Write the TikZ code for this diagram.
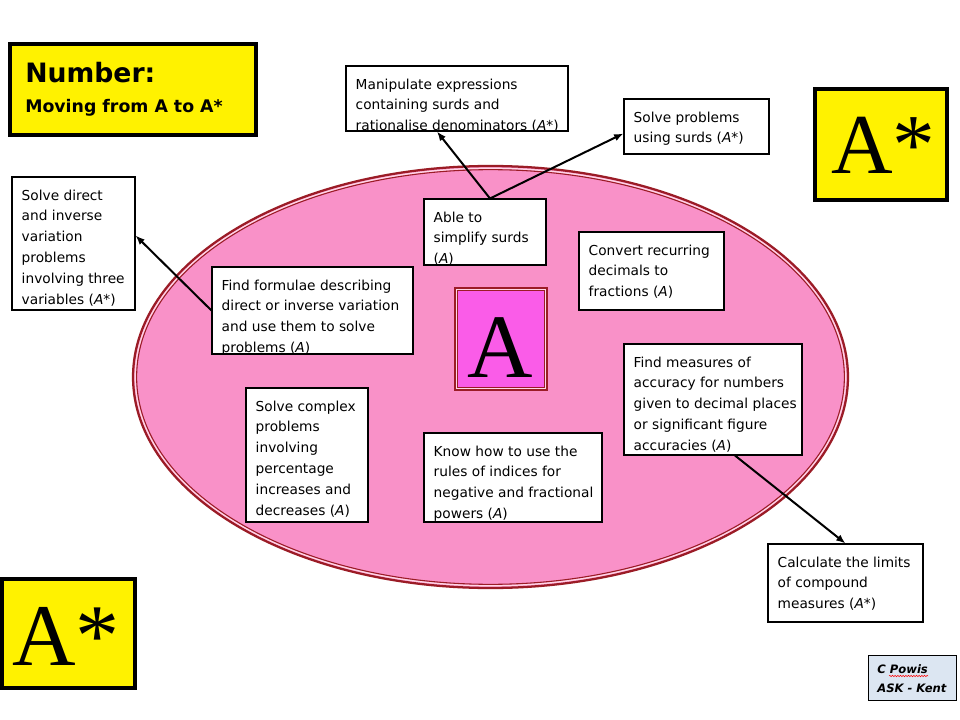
\documentclass[tikz,border=0pt]{standalone}
\usepackage{fontspec}
\setmainfont{DejaVu Sans}
\newfontfamily\serifA{Liberation Serif}
\usetikzlibrary{arrows.meta,fit,decorations.pathmorphing}
\definecolor{ellfill}{RGB}{249,145,200}
\definecolor{dred}{RGB}{155,28,38}
\definecolor{lpink}{RGB}{255,215,230}
\definecolor{magA}{RGB}{250,92,232}
\definecolor{lblue}{RGB}{220,230,242}
\newcommand\mybox[6]{%
  \node[box, fit={(#2,#3) (#4,#5)}] (#1) {};
  \begin{scope}
    \clip (#1.south west) rectangle (#1.north east);
    \node[lbl] (#1t) at ([shift={(10,13)}]#1.north west) {#6};
  \end{scope}}
\newcommand\Ait{\textit{A}}
\begin{document}
\begin{tikzpicture}[x=0.75pt,y=-0.75pt,
  box/.style={draw=black, line width=0.8pt, fill=white, inner sep=0pt},
  lbl/.style={anchor=north west, inner sep=0pt, align=left, font=\fontsize{10.3}{15.6}\selectfont},
  arr/.style={line width=1.5pt, -{Latex[length=7pt,width=5.5pt]}},
  ybox/.style={draw=black, line width=2.2pt, fill=yellow, inner sep=0pt},
  inner/.style={line width=0.7pt},
  big/.style={anchor=base west, inner sep=0pt, font=\serifA\fontsize{#1}{#1}\selectfont},
]
\useasboundingbox[fill=white] (0,0) rectangle (960,720);

% ellipse
\fill[ellfill] (490.5,377) ellipse [x radius=268.1pt, y radius=158.25pt];
\draw[dred, line width=1.7pt] (490.5,377) ellipse [x radius=268.1pt, y radius=158.25pt];
\draw[lpink, line width=1.0pt] (490.5,377) ellipse [x radius=266.4pt, y radius=156.5pt];
\draw[dred, line width=0.8pt] (490.5,377) ellipse [x radius=265.4pt, y radius=155.5pt];

% title box
\node[ybox, fit={(9.5,43.5) (256.5,135.5)}] (title) {};
\draw[inner] ([shift={(3.5,3.5)}]title.north west) rectangle ([shift={(-3.5,-3.5)}]title.south east);
\node[anchor=base west, inner sep=0pt, font=\bfseries\fontsize{20}{20}\selectfont] (t1) at (25,83) {Number:};
\node[anchor=base west, inner sep=0pt, font=\bfseries\fontsize{13}{13}\selectfont] (t2) at (25,113) {Moving from A to A*};

% A* boxes
\node[ybox, fit={(814.5,88.5) (947.5,200.5)}] (astarR) {};
\draw[inner] ([shift={(3.5,3.5)}]astarR.north west) rectangle ([shift={(-3.5,-3.5)}]astarR.south east);
\node[big=64] (astarRt) at (831,174) {A*};

\node[ybox, fit={(1.5,578.5) (135.5,688.5)}] (astarL) {};
\draw[inner] ([shift={(3.5,3.5)}]astarL.north west) rectangle ([shift={(-3.5,-3.5)}]astarL.south east);
\node[big=66] (astarLt) at (12,665) {A*};

% central A
\node[draw=dred, line width=3pt, fill=magA, inner sep=0pt, fit={(456,289) (546,389)}] (abox) {};
\draw[lpink, line width=0.6pt] ([shift={(2.6,2.6)}]abox.north west) rectangle ([shift={(-2.6,-2.6)}]abox.south east);
\draw[dred, line width=0.7pt] ([shift={(3.9,3.9)}]abox.north west) rectangle ([shift={(-3.9,-3.9)}]abox.south east);
\node[big=68] (aboxt) at (467,377) {A};

% text boxes
\mybox{manip}{346}{66}{568}{131}{Manipulate expressions\\containing surds and\\rationalise denominators (\Ait*)}
\mybox{solve}{624}{99}{769}{154}{Solve problems\\using surds (\Ait*)}
\mybox{able}{424}{199}{546}{265}{Able to\\simplify surds\\(\Ait)}
\mybox{convert}{579}{232}{724}{310}{Convert recurring\\decimals to\\fractions (\Ait)}
\mybox{direct}{12}{177}{135}{310}{Solve direct\\and inverse\\variation\\problems\\involving three\\variables (\Ait*)}
\mybox{formulae}{212}{267}{413}{354}{Find formulae describing\\direct or inverse variation\\and use them to solve\\problems (\Ait)}
\mybox{measures}{624}{344}{802}{455}{Find measures of\\accuracy for numbers\\given to decimal places\\or significant figure\\accuracies (\Ait)}
\mybox{complex}{246}{388}{368}{522}{Solve complex\\problems\\involving\\percentage\\increases and\\decreases (\Ait)}
\mybox{indices}{424}{433}{602}{522}{Know how to use the\\rules of indices for\\negative and fractional\\powers (\Ait)}
\mybox{calc}{768}{544}{923}{622}{Calculate the limits\\of compound\\measures (\Ait*)}

% arrows
\draw[arr] ([shift={(5,0)}]able.north) -- ([shift={(-20,0)}]manip.south);
\draw[arr] ([shift={(5,0)}]able.north) -- ([shift={(0,7)}]solve.west);
\draw[arr] (formulae.west) -- ([shift={(0,-8)}]direct.east);
\draw[arr] ([shift={(22,0)}]measures.south) -- (calc.north);

% credit
\node[draw=black, line width=0.6pt, fill=lblue, inner sep=0pt, fit={(868,655) (956,700)}] (cp) {};
\node[anchor=base west, inner sep=0pt, font=\bfseries\itshape\fontsize{8.7}{8.7}\selectfont] (cp1) at (877,673) {C Powis};
\node[anchor=base west, inner sep=0pt, font=\bfseries\itshape\fontsize{8.7}{8.7}\selectfont] (cp2) at (877,692) {ASK - Kent};
\draw[red, line width=0.4pt, decorate, decoration={snake, amplitude=0.5pt, segment length=2pt}] ([shift={(12,3)}]cp1.base west) -- ([shift={(0,3)}]cp1.base east);
\end{tikzpicture}
\end{document}
